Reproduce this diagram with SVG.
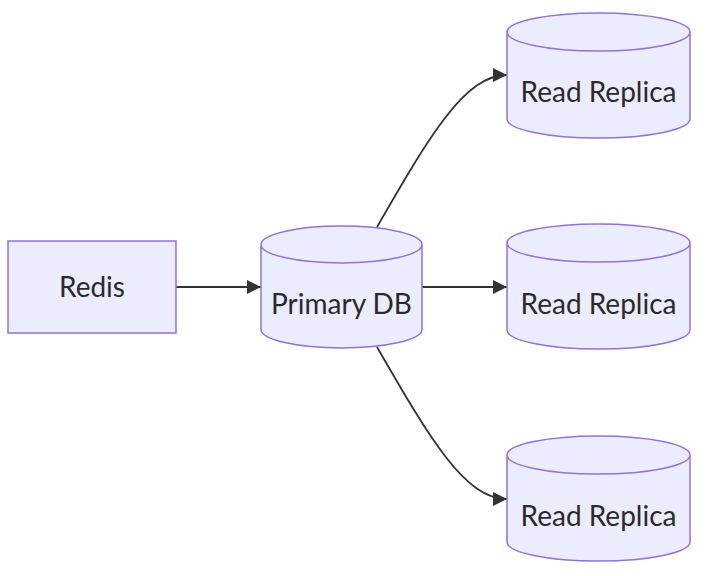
<svg xmlns="http://www.w3.org/2000/svg" width="720" height="576" viewBox="0 0 720 576">
  <style>
    .node { fill: #ECECFF; stroke: #9370DB; stroke-width: 1.5; }
    .label { font-family: Lato, "Open Sans", "Liberation Sans", sans-serif; font-size: 28px; fill: #2a2a2a; text-anchor: middle; }
    .edge { fill: none; stroke: #333333; stroke-width: 1.8; }
  </style>
  <defs>
    <marker id="arrow" viewBox="0 0 10 10" refX="10" refY="5" markerUnits="userSpaceOnUse" markerWidth="15" markerHeight="14" orient="auto">
      <path d="M0,0 L10,5 L0,10 z" fill="#333333"/>
    </marker>
  </defs>
  <rect width="720" height="576" fill="#FFFFFF"/>
  <g id="connectors">
    <path class="edge" d="M176,287 L261,287" marker-end="url(#arrow)"/>
    <path class="edge" d="M422,287 L507,287" marker-end="url(#arrow)"/>
    <path class="edge" d="M377,227 C430,135 465,75 507,75" marker-end="url(#arrow)"/>
    <path class="edge" d="M377,347 C430,439 465,499 507,499" marker-end="url(#arrow)"/>
  </g>
  <g id="redis">
    <rect class="node" x="8" y="241" width="168" height="92"/>
    <text class="label" x="92" y="296.5">Redis</text>
  </g>
  <g id="primary">
    <path class="node" d="M261,244.5 a80.5,18.5 0 0,0 161,0 a80.5,18.5 0 0,0 -161,0 l0,85 a80.5,18.5 0 0,0 161,0 l0,-85"/>
    <text class="label" x="341.5" y="313.5">Primary DB</text>
  </g>
  <g id="replica1">
    <path class="node" d="M507,32 a91.5,19 0 0,0 183,0 a91.5,19 0 0,0 -183,0 l0,87 a91.5,19 0 0,0 183,0 l0,-87"/>
    <text class="label" x="598.5" y="102">Read Replica</text>
  </g>
  <g id="replica2">
    <path class="node" d="M507,243 a91.5,19 0 0,0 183,0 a91.5,19 0 0,0 -183,0 l0,87 a91.5,19 0 0,0 183,0 l0,-87"/>
    <text class="label" x="598.5" y="313.5">Read Replica</text>
  </g>
  <g id="replica3">
    <path class="node" d="M507,455 a91.5,19 0 0,0 183,0 a91.5,19 0 0,0 -183,0 l0,87 a91.5,19 0 0,0 183,0 l0,-87"/>
    <text class="label" x="598.5" y="525.5">Read Replica</text>
  </g>
</svg>
